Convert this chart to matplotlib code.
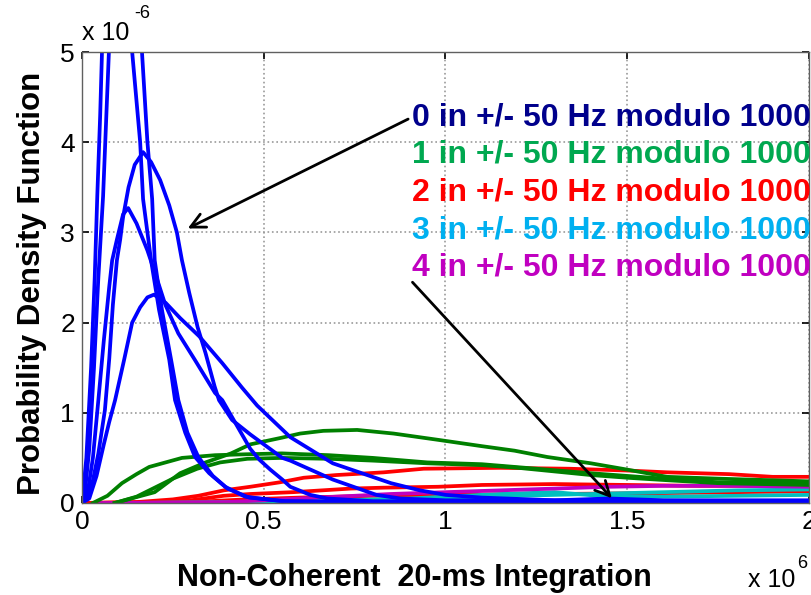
import matplotlib
matplotlib.use("Agg")
from matplotlib import pyplot as plt
import numpy as np

plt.rcParams['font.family'] = ['Liberation Sans', 'DejaVu Sans']

# x in units of 1e6, pdf in units of 1e-6
blue_x = [
    [0.0, 0.012, 0.025, 0.035, 0.042, 0.05, 0.055, 0.07, 0.095, 0.12, 0.138, 0.16, 0.168, 0.19, 0.212,
     0.24, 0.256, 0.284, 0.311, 0.35, 0.394, 0.449, 0.55, 0.8, 2.0],
    [0.005, 0.02, 0.033, 0.045, 0.058, 0.066, 0.074, 0.09, 0.115, 0.145, 0.165, 0.18, 0.193, 0.20, 0.22,
     0.245, 0.265, 0.29, 0.32, 0.36, 0.40, 0.46, 0.56, 0.8, 2.0],
    [0.0, 0.015, 0.03, 0.045, 0.063, 0.075, 0.085, 0.096, 0.105, 0.113, 0.128, 0.145, 0.168, 0.19, 0.215,
     0.24, 0.261, 0.275, 0.295, 0.318, 0.34, 0.365, 0.377, 0.413, 0.463, 0.551, 0.573, 0.69, 0.81, 0.876,
     1.0, 1.3, 1.45, 1.6, 2.0],
    [0.0, 0.015, 0.03, 0.045, 0.06, 0.075, 0.083, 0.096, 0.113, 0.127, 0.15, 0.18, 0.205, 0.229, 0.265,
     0.31, 0.366, 0.386, 0.433, 0.463, 0.488, 0.518, 0.551, 0.573, 0.628, 0.675, 0.8, 2.0],
    [0.0, 0.02, 0.04, 0.06, 0.075, 0.091, 0.116, 0.138, 0.16, 0.18, 0.198, 0.23, 0.27, 0.322, 0.386,
     0.44, 0.482, 0.573, 0.69, 0.85, 0.93, 1.0, 1.1, 1.3, 1.5, 2.0],
]
blue_y = [
    [0.0, 0.5, 1.5, 2.5, 3.4, 4.3, 5.0, 6.2, 6.8, 6.0, 5.0, 4.0, 3.37, 2.69, 2.14,
     1.59, 1.14, 0.78, 0.51, 0.33, 0.18, 0.07, 0.02, 0.01, 0.01],
    [0.0, 0.6, 1.5, 2.5, 3.4, 4.2, 5.0, 6.0, 6.5, 5.8, 5.0, 4.0, 3.37, 2.69, 2.14,
     1.59, 1.14, 0.78, 0.51, 0.30, 0.16, 0.06, 0.02, 0.01, 0.01],
    [0.0, 0.05, 0.25, 0.55, 1.03, 1.6, 2.2, 2.69, 2.92, 3.17, 3.5, 3.75, 3.89, 3.78, 3.58,
     3.3, 3.0, 2.69, 2.33, 1.95, 1.66, 1.29, 1.14, 0.92, 0.76, 0.5, 0.47, 0.26, 0.09, 0.05,
     0.03, 0.03, 0.05, 0.03, 0.03],
    [0.0, 0.1, 0.5, 1.14, 1.8, 2.4, 2.69, 2.92, 3.2, 3.27, 3.1, 2.8, 2.5, 2.2, 1.88,
     1.59, 1.22, 1.14, 0.81, 0.6, 0.48, 0.37, 0.26, 0.18, 0.09, 0.05, 0.02, 0.01],
    [0.0, 0.05, 0.3, 0.65, 0.9, 1.14, 1.59, 2.0, 2.17, 2.28, 2.31, 2.22, 2.05, 1.85, 1.55,
     1.28, 1.08, 0.73, 0.44, 0.22, 0.14, 0.09, 0.06, 0.03, 0.02, 0.02],
]

green_x = [
    [0.09, 0.2, 0.27, 0.34, 0.41, 0.463, 0.545, 0.6, 0.664, 0.757, 0.857, 0.98, 1.1, 1.19, 1.28,
     1.4, 1.5, 1.61, 1.75, 2.0],
    [0.03, 0.07, 0.11, 0.15, 0.185, 0.23, 0.275, 0.366, 0.45, 0.55, 0.68, 0.8, 0.95, 1.1, 1.19,
     1.28, 1.4, 1.5, 1.6, 1.75, 2.0],
    [0.09, 0.15, 0.2, 0.25, 0.317, 0.38, 0.455, 0.55, 0.68, 0.8, 0.95, 1.1, 1.2, 1.3, 1.4,
     1.5, 1.62, 1.75, 2.0],
]
green_y = [
    [0.0, 0.12, 0.33, 0.45, 0.55, 0.65, 0.72, 0.77, 0.8, 0.81, 0.77, 0.7, 0.63, 0.58, 0.51,
     0.44, 0.37, 0.29, 0.27, 0.24],
    [0.0, 0.08, 0.22, 0.32, 0.4, 0.45, 0.5, 0.53, 0.54, 0.55, 0.53, 0.5, 0.45, 0.43, 0.4,
     0.37, 0.33, 0.3, 0.27, 0.23, 0.22],
    [0.0, 0.07, 0.17, 0.27, 0.38, 0.45, 0.49, 0.5, 0.49, 0.47, 0.44, 0.42, 0.39, 0.35, 0.31,
     0.28, 0.25, 0.22, 0.2],
]

red_x = [
    [0.0, 0.15, 0.25, 0.32, 0.39, 0.463, 0.545, 0.61, 0.7, 0.83, 0.94, 1.15, 1.34, 1.5, 1.61,
     1.78, 1.9, 2.0],
    [0.0, 0.2, 0.3, 0.39, 0.463, 0.58, 0.74, 0.83, 0.98, 1.1, 1.3, 1.5, 1.7, 2.0],
    [0.0, 0.3, 0.45, 0.6, 0.8, 1.0, 1.3, 1.6, 2.0],
]
red_y = [
    [0.0, 0.01, 0.04, 0.08, 0.14, 0.18, 0.23, 0.28, 0.31, 0.34, 0.38, 0.39, 0.38, 0.36, 0.34,
     0.32, 0.29, 0.29],
    [0.0, 0.01, 0.03, 0.08, 0.1, 0.12, 0.16, 0.17, 0.18, 0.2, 0.21, 0.2, 0.19, 0.19],
    [0.0, 0.01, 0.04, 0.06, 0.08, 0.09, 0.1, 0.11, 0.13],
]

cyan_x = [
    [0.1, 0.5, 0.7, 0.9, 1.0, 1.15, 1.3, 1.45, 1.6, 1.8, 2.0],
    [0.1, 0.6, 0.8, 1.0, 1.2, 1.4, 1.6, 1.8, 2.0],
]
cyan_y = [
    [0.0, 0.01, 0.03, 0.05, 0.07, 0.1, 0.12, 0.07, 0.07, 0.08, 0.09],
    [0.0, 0.01, 0.03, 0.05, 0.08, 0.1, 0.12, 0.14, 0.15],
]

magenta_x = [0.05, 0.4, 0.55, 0.7, 0.85, 1.0, 1.15, 1.3, 1.45, 1.6, 1.8, 2.0]
magenta_y = [0.0, 0.01, 0.04, 0.07, 0.1, 0.12, 0.14, 0.16, 0.18, 0.19, 0.19, 0.18]

legend_labels = ['0 in +/- 50 Hz modulo 1000', '1 in +/- 50 Hz modulo 1000',
                 '2 in +/- 50 Hz modulo 1000', '3 in +/- 50 Hz modulo 1000',
                 '4 in +/- 50 Hz modulo 1000']
legend_colors = ['#00008C', '#00A850', '#FF0000', '#00B0F0', '#C000C0']

x_ticks = [0, 0.5, 1, 1.5, 2]
x_tick_labels = ['0', '0.5', '1', '1.5', '2']
y_ticks = [0, 1, 2, 3, 4, 5]

fig = plt.figure(figsize=(8.12, 5.95), dpi=100)
ax = fig.add_axes([82/812, 1-503/595, 727/812, 451/595])

lw = 2.7
for xs, ys in zip(red_x, red_y):
    ax.plot(xs, ys, color='#FF0000', lw=lw)
for xs, ys in zip(cyan_x, cyan_y):
    ax.plot(xs, ys, color='#00BFBF', lw=lw)
ax.plot(magenta_x, magenta_y, color='#BF00BF', lw=lw)
for xs, ys in zip(green_x, green_y):
    ax.plot(xs, ys, color='#008000', lw=lw)
for xs, ys in zip(blue_x, blue_y):
    ax.plot(xs, ys, color='#0000FF', lw=lw)

ax.set_xlim(0, 2)
ax.set_ylim(0, 5)
ax.set_xticks(x_ticks)
ax.set_xticklabels(x_tick_labels)
ax.set_yticks(y_ticks)
ax.tick_params(direction='in', length=5, width=1.2, labelsize=19, colors='black', pad=5,
               top=True, right=True)
ax.grid(True, color='#9a9a9a', linestyle=':', linewidth=1.2)
for s in ax.spines.values():
    s.set_color('#606060')
    s.set_linewidth(1.0)

ax.set_ylabel('Probability Density Function', fontsize=22.5, fontweight='bold')
ax.yaxis.set_label_coords(-(82 - 47)/727, 0.488)
fig.text(414/812, 1-578/595, 'Non-Coherent  20-ms Integration', fontsize=22,
         fontweight='bold', ha='center', va='center')

# MATLAB-style exponent labels
fig.text(82/812, 1-33/595, 'x 10', fontsize=18, ha='left', va='center')
fig.text(134/812, 1-14/595, '-6', fontsize=13, ha='left', va='center')
fig.text(748/812, 1-580/595, 'x 10', fontsize=18, ha='left', va='center')
fig.text(797/812, 1-563/595, '6', fontsize=13, ha='left', va='center')

for i, (lab, col) in enumerate(zip(legend_labels, legend_colors)):
    fig.text(412/812, 1-(117 + 37.7*i)/595, lab, color=col, fontsize=23,
             fontweight='bold', ha='left', va='center')

ax.annotate('', xy=(0.284, 3.03), xytext=(0.904, 4.27),
            arrowprops=dict(arrowstyle='->', color='black', lw=2.0, mutation_scale=26),
            annotation_clip=False)
ax.annotate('', xy=(1.463, 0.03), xytext=(0.904, 2.47),
            arrowprops=dict(arrowstyle='->', color='black', lw=2.0, mutation_scale=26),
            annotation_clip=False)

fig.savefig('out.png', dpi=100)
